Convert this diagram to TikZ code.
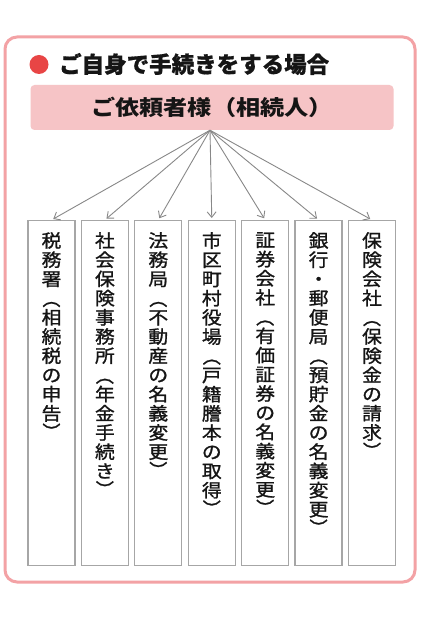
\documentclass[tikz,border=0pt]{standalone}
\usepackage{fontspec}
\usepackage{graphicx}
\usetikzlibrary{arrows.meta}
\newfontfamily\jp{Noto Sans CJK JP}
\newfontfamily\jpt{Noto Sans CJK JP}[FakeBold=0.6]
\newfontfamily\jpw{Noto Sans CJK JP}[FakeStretch=1.15]
\newfontfamily\jpv{Noto Sans CJK JP}[FakeStretch=1.1,FakeBold=1.2]
\definecolor{outerpink}{HTML}{F3A2A5}
\definecolor{dotred}{HTML}{E84545}
\definecolor{headpink}{HTML}{F6C4C6}
\definecolor{boxgray}{HTML}{A6A6A6}
\definecolor{arrgray}{HTML}{888888}
\definecolor{ink}{HTML}{151515}
\newcommand\vL{\rotatebox[origin=c]{-90}{（}}
\newcommand\vR{\rotatebox[origin=c]{-90}{）}}
\tikzset{
  outerbox/.style={draw=outerpink, line width=3pt, rounded corners=12pt},
  headbox/.style={fill=headpink, rounded corners=4pt, minimum width=363pt, minimum height=45pt, inner sep=0pt,
    text=ink, font=\jpw\bfseries\fontsize{21}{21}\selectfont},
  titletext/.style={anchor=west, inner sep=0pt, text=ink, font=\jpt\bfseries\fontsize{22.5}{22.5}\selectfont},
  colbox/.style={draw=boxgray, line width=1.3pt, minimum width=47pt, minimum height=345pt, inner sep=0pt, anchor=north},
  vtext/.style={anchor=north, inner sep=0pt, align=center, text=ink, font=\jpv\fontsize{18}{19.2}\selectfont},
  arr/.style={draw=arrgray, line width=0.9pt, -{Straight Barb[length=5.5pt,width=9pt]}, shorten >=2pt},
}
\begin{document}
\begin{tikzpicture}[x=1pt,y=-1pt]
\useasboundingbox (0,0) rectangle (420,620);
\fill[white] (0,0) rectangle (420,620);
\draw[outerbox] (5,37) rectangle (415,582);
\fill[dotred] (39,64.5) circle (9.5pt);
\node[titletext] (title) at (59,64) {ご自身で手続きをする場合};
\node[headbox] (req) at (212,107.5) {ご依頼者様（相続人）};
\coordinate (hub) at ([xshift=-2pt]req.south);

\node[colbox] (b1) at (51.5,220) {};
\node[colbox] (b2) at (104.9,220) {};
\node[colbox] (b3) at (158.3,220) {};
\node[colbox] (b4) at (211.8,220) {};
\node[colbox] (b5) at (265.2,220) {};
\node[colbox] (b6) at (318.6,220) {};
\node[colbox] (b7) at (372.0,220) {};

\node[vtext] (t1) at ([yshift=-12pt]b1.north) {税\\務\\署\\\vL\\相\\続\\税\\の\\申\\告\\\vR};
\node[vtext] (t2) at ([yshift=-12pt]b2.north) {社\\会\\保\\険\\事\\務\\所\\\vL\\年\\金\\手\\続\\き\\\vR};
\node[vtext] (t3) at ([yshift=-12pt]b3.north) {法\\務\\局\\\vL\\不\\動\\産\\の\\名\\義\\変\\更\\\vR};
\node[vtext] (t4) at ([yshift=-12pt]b4.north) {市\\区\\町\\村\\役\\場\\\vL\\戸\\籍\\謄\\本\\の\\取\\得\\\vR};
\node[vtext] (t5) at ([yshift=-12pt]b5.north) {証\\券\\会\\社\\\vL\\有\\価\\証\\券\\の\\名\\義\\変\\更\\\vR};
\node[vtext] (t6) at ([yshift=-12pt]b6.north) {銀\\行\\・\\郵\\便\\局\\\vL\\預\\貯\\金\\の\\名\\義\\変\\更\\\vR};
\node[vtext] (t7) at ([yshift=-12pt]b7.north) {保\\険\\会\\社\\\vL\\保\\険\\金\\の\\請\\求\\\vR};

\foreach \b in {b1,b2,b3,b4,b5,b6,b7}
  \draw[arr] (hub) -- (\b.north);
\end{tikzpicture}
\end{document}
